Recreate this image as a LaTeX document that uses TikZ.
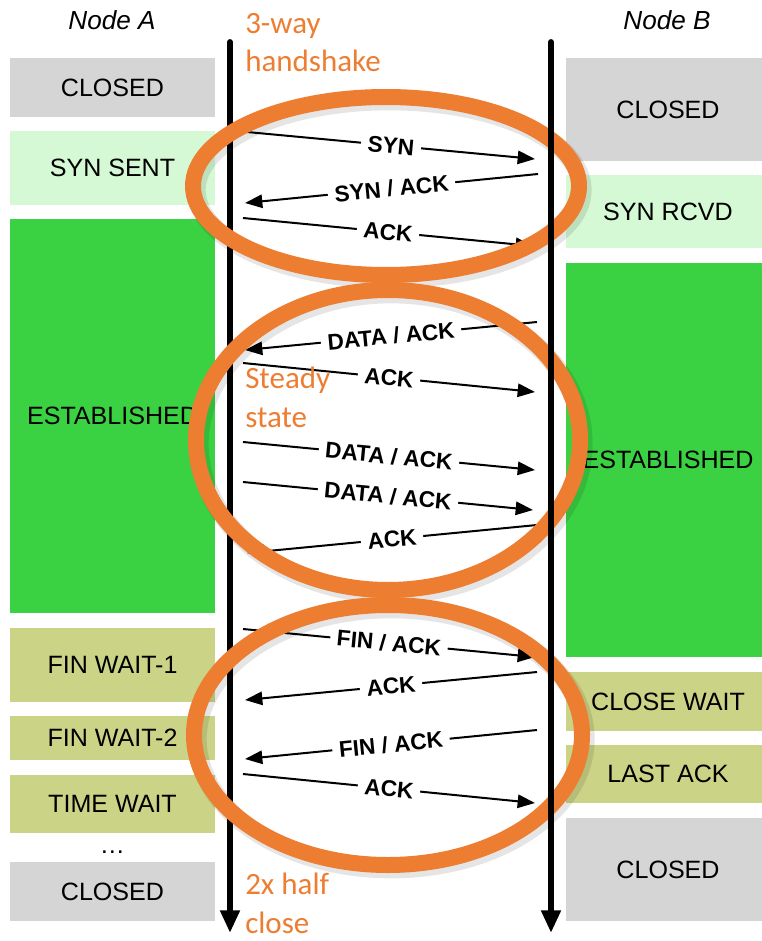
\documentclass[tikz,border=0pt]{standalone}
\usepackage{fontspec}
\setmainfont{Liberation Sans}
\newfontfamily\calibri{Carlito}
\usepackage{tikz}
\usetikzlibrary{arrows.meta}

\definecolor{stclosed}{RGB}{213,213,213}
\definecolor{stsyn}{RGB}{212,249,212}
\definecolor{stest}{RGB}{58,209,67}
\definecolor{stfin}{RGB}{203,211,134}
\definecolor{phaseorange}{RGB}{237,125,49}

\begin{document}
\begin{tikzpicture}[x=0.75pt, y=-0.75pt,
		state/.style={inner sep=0pt, font=\fontsize{18.8}{22}\selectfont},
		msg/.style={line width=1.5pt, -{Triangle[length=13pt, width=10pt]}},
		msglbl/.style={sloped, fill=white, inner xsep=5pt, inner ysep=2pt, text height=12pt, text depth=0pt, font=\fontsize{17}{20}\selectfont\bfseries},
		timeline/.style={line width=4.4pt, line cap=round, -{Triangle[length=17pt, width=14pt]}},
		phase/.style={draw=phaseorange, line width=12pt},
		phaseshadow/.style={draw=black, opacity=0.1, line width=14pt},
		phasetxt/.style={anchor=north west, inner sep=0pt, align=left, text=phaseorange, font=\calibri\fontsize{23.25}{29}\selectfont}]
		\def\xA{230};
		\def\xB{551};

		\useasboundingbox (0,0) rectangle (761,941);

		\node[state, font=\fontsize{19.6}{22}\selectfont\itshape] (nodea) at (112,20) {Node A};
		\node[state, font=\fontsize{19.6}{22}\selectfont\itshape] (nodeb) at (667,20) {Node B};

		\fill [stclosed] (10,58) rectangle (215,117);
		\node[state] (aclosed) at (112.5,87.5) {CLOSED};
		\fill [stsyn] (10,131) rectangle (215,205);
		\node[state] (asynsent) at (112.5,168) {SYN SENT};
		\fill [stest] (10,219) rectangle (215,613);
		\node[state] (aest) at (112.5,416) {ESTABLISHED};
		\fill [stfin] (10,628) rectangle (215,702);
		\node[state] (afin1) at (112.5,665) {FIN WAIT-1};
		\fill [stfin] (10,716) rectangle (215,760);
		\node[state] (afin2) at (112.5,738) {FIN WAIT-2};
		\fill [stfin] (10,775) rectangle (215,833);
		\node[state] (atime) at (112.5,804) {TIME WAIT};
		\node[state, anchor=base] (adots) at (112.5,853) {…};
		\fill [stclosed] (10,862) rectangle (215,921);
		\node[state] (aclosedend) at (112.5,891.5) {CLOSED};

		\fill [stclosed] (566,58) rectangle (770,161);
		\node[state] (bclosed) at (668,109.5) {CLOSED};
		\fill [stsyn] (566,175) rectangle (770,248);
		\node[state] (bsynrcvd) at (668,211.5) {SYN RCVD};
		\fill [stest] (566,263) rectangle (770,657);
		\node[state] (best) at (668,460) {ESTABLISHED};
		\fill [stfin] (566,672) rectangle (770,731);
		\node[state] (bclosewait) at (668,701.5) {CLOSE WAIT};
		\fill [stfin] (566,745) rectangle (770,803);
		\node[state] (blastack) at (668,774) {LAST ACK};
		\fill [stclosed] (566,818) rectangle (770,921);
		\node[state] (bclosedend) at (668,869.5) {CLOSED};

		\coordinate (atop) at (\xA,42);
		\coordinate (abot) at (\xA,933);
		\coordinate (btop) at (\xB,42);
		\coordinate (bbot) at (\xB,933);

		\draw [timeline] (atop) -- (abot);

		\coordinate (s1) at (247,132);
		\coordinate (e1) at (535,159);
		\coordinate (s2) at (538,174);
		\coordinate (e2) at (245,203);
		\coordinate (s3) at (243,218);
		\coordinate (e3) at (533,246);
		\coordinate (s4) at (537,322);
		\coordinate (e4) at (245,350);
		\coordinate (s5) at (243,363);
		\coordinate (e5) at (535,392);
		\coordinate (s6) at (243,442);
		\coordinate (e6) at (535,470);
		\coordinate (s7) at (243,482);
		\coordinate (e7) at (533,510);
		\coordinate (s8) at (537,525);
		\coordinate (e8) at (247,553);
		\coordinate (s9) at (243,629);
		\coordinate (e9) at (535,657);
		\coordinate (s10) at (537,672);
		\coordinate (e10) at (245,700);
		\coordinate (s11) at (537,730);
		\coordinate (e11) at (245,759);
		\coordinate (s12) at (243,774);
		\coordinate (e12) at (535,803);

		\draw [msg] (s1) -- node[msglbl] (m1) {SYN} (e1);
		\draw [msg] (s2) -- node[msglbl] (m2) {SYN / ACK} (e2);
		\draw [msg] (s3) -- node[msglbl] (m3) {ACK} (e3);
		\draw [msg] (s4) -- node[msglbl] (m4) {DATA / ACK} (e4);
		\draw [msg] (s5) -- node[msglbl] (m5) {ACK} (e5);
		\draw [msg] (s6) -- node[msglbl] (m6) {DATA / ACK} (e6);
		\draw [msg] (s7) -- node[msglbl] (m7) {DATA / ACK} (e7);
		\draw [msg] (s8) -- node[msglbl] (m8) {ACK} (e8);
		\draw [msg] (s9) -- node[msglbl] (m9) {FIN / ACK} (e9);
		\draw [msg] (s10) -- node[msglbl] (m10) {ACK} (e10);
		\draw [msg] (s11) -- node[msglbl] (m11) {FIN / ACK} (e11);
		\draw [msg] (s12) -- node[msglbl] (m12) {ACK} (e12);

		\node[phasetxt] (handshake) at (245,6) {\strut 3-way\\handshake};
		\node[phasetxt] (steady) at (245,361) {\strut Steady\\state};
		\node[phasetxt] (halfclose) at (245,867) {\strut 2x half\\close};

		\begin{scope}[xshift=2.5pt, yshift=-3pt]
			\draw [phaseshadow] (386,186) ellipse [x radius=193, y radius=89];
			\draw [phaseshadow] (388,440) ellipse [x radius=192, y radius=150];
			\draw [phaseshadow] (388,735) ellipse [x radius=194, y radius=130];
		\end{scope}
		\draw [phase] (386,186) ellipse [x radius=193, y radius=89];
		\draw [phase] (388,440) ellipse [x radius=192, y radius=150];
		\draw [phase] (388,735) ellipse [x radius=194, y radius=130];

		\draw [timeline] (btop) -- (bbot);
	\end{tikzpicture}
\end{document}
